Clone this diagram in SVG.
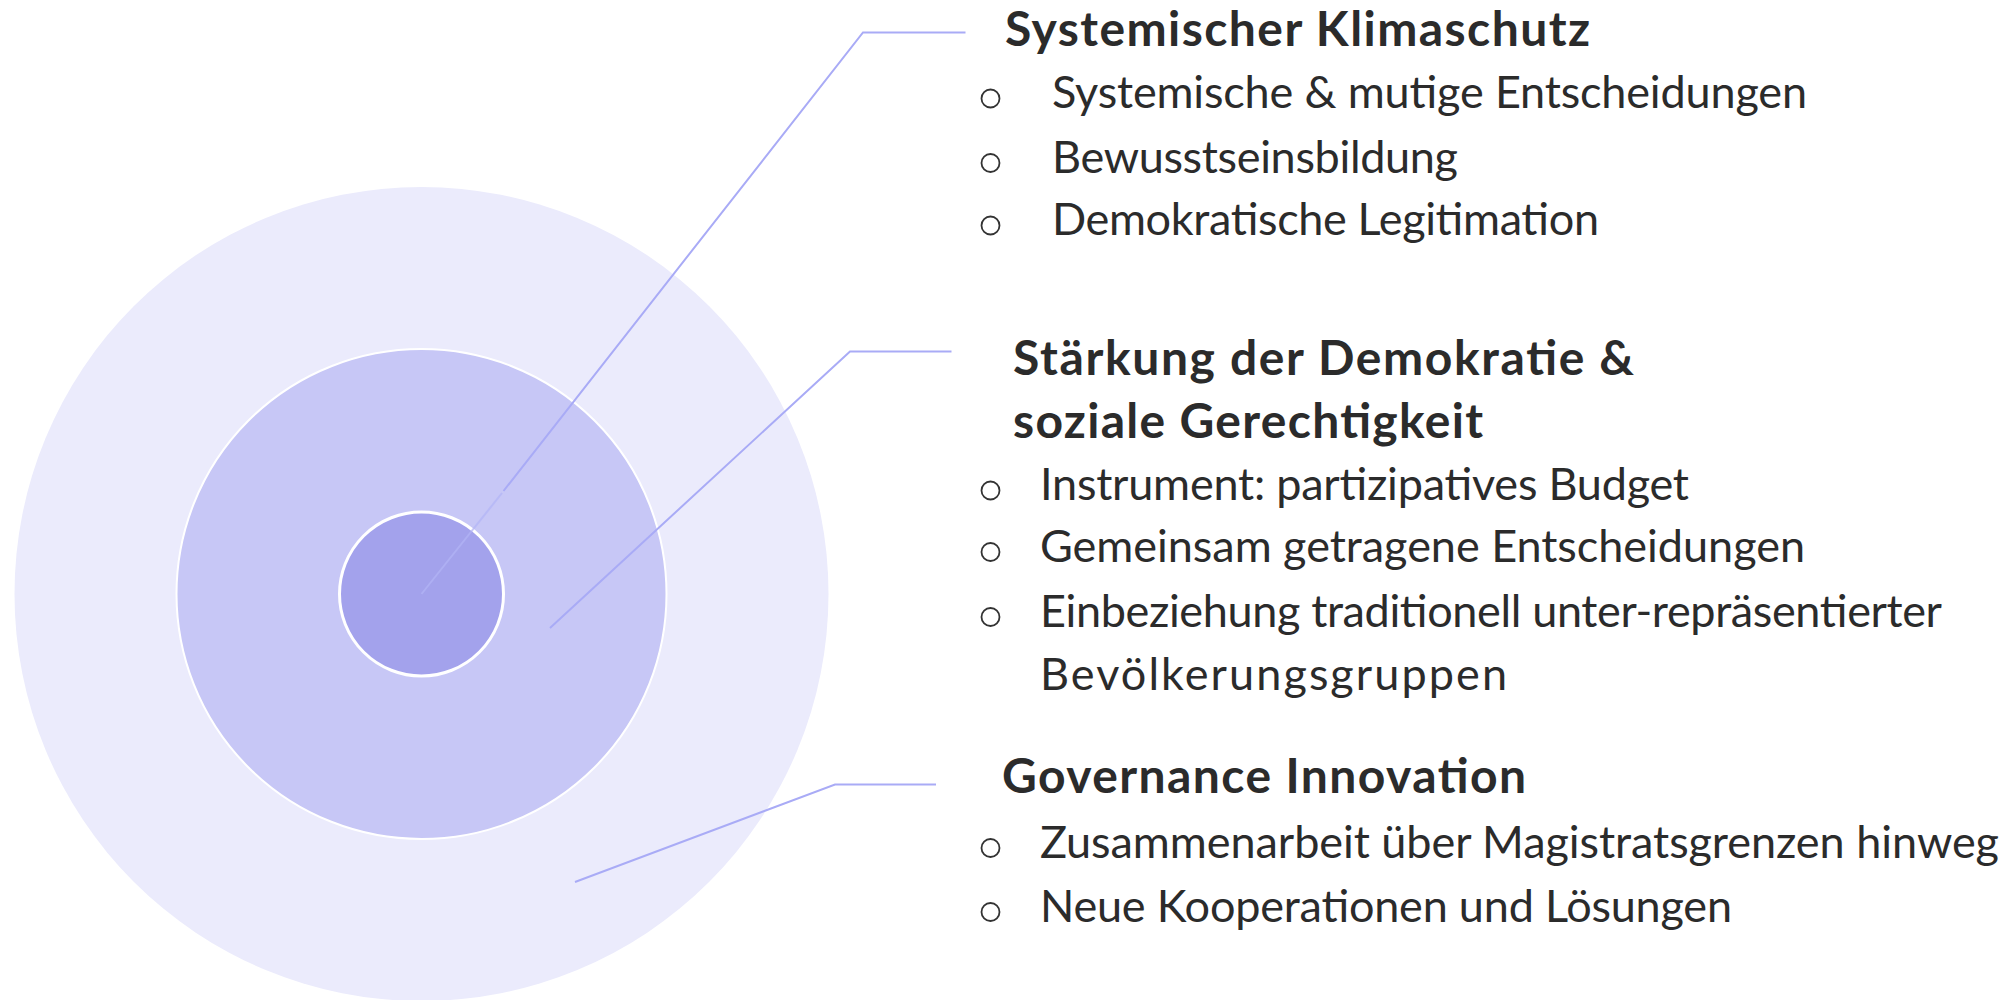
<svg xmlns="http://www.w3.org/2000/svg" width="2009" height="1000" viewBox="0 0 2009 1000">
<style>
.t{font-family:Lato,"Open Sans","Liberation Sans",sans-serif;fill:#2b2b2b;font-size:45px}
.h{font-weight:700;font-size:48px}
.b{fill:none;stroke:#333;stroke-width:1.8}
.ln{fill:none;stroke:#a9abf6;stroke-width:2}
</style>
<rect width="2009" height="1000" fill="#fff"/>
<g id="ring-outer"><circle cx="421.5" cy="594" r="407" fill="#ebebfc"/></g>
<g id="ring-middle"><circle cx="421.5" cy="594" r="245" fill="#c7c7f6" stroke="#fff" stroke-width="2"/></g>
<g id="connectors">
<polyline class="ln" points="503.5,491 863,32.5 965.5,32.5"/>
<polyline class="ln" points="550,628 850,351.5 951.5,351.5"/>
<polyline class="ln" points="575,882 835,784.5 936,784.5"/>
</g>
<g id="ring-inner"><circle cx="421.5" cy="594" r="82" fill="#a3a2ec" stroke="#fff" stroke-width="3"/>
<line x1="421.5" y1="594" x2="502" y2="493" stroke="#b3b5f6" stroke-width="2" opacity="0.7"/></g>
<g id="node-klimaschutz">
<text class="t h" x="1005" y="46" textLength="585" lengthAdjust="spacing">Systemischer Klimaschutz</text>
<circle class="b" cx="990.5" cy="98.5" r="9"/><text class="t" x="1052" y="108" textLength="755" lengthAdjust="spacing">Systemische &amp; mutige Entscheidungen</text>
<circle class="b" cx="990.5" cy="163" r="9"/><text class="t" x="1052" y="172.5" textLength="406" lengthAdjust="spacing">Bewusstseinsbildung</text>
<circle class="b" cx="990.5" cy="225.5" r="9"/><text class="t" x="1052" y="235" textLength="547" lengthAdjust="spacing">Demokratische Legitimation</text>
</g>
<g id="node-demokratie">
<text class="t h" x="1013" y="375" textLength="621" lengthAdjust="spacing">Stärkung der Demokratie &amp;</text>
<text class="t h" x="1013" y="438" textLength="470" lengthAdjust="spacing">soziale Gerechtigkeit</text>
<circle class="b" cx="990.5" cy="490.5" r="9"/><text class="t" x="1040" y="500" textLength="649" lengthAdjust="spacing">Instrument: partizipatives Budget</text>
<circle class="b" cx="990.5" cy="552" r="9"/><text class="t" x="1040" y="561.5" textLength="765" lengthAdjust="spacing">Gemeinsam getragene Entscheidungen</text>
<circle class="b" cx="990.5" cy="617" r="9"/><text class="t" x="1040" y="626.5" textLength="902" lengthAdjust="spacing">Einbeziehung traditionell unter-repräsentierter</text>
<text class="t" x="1040" y="690" textLength="467" lengthAdjust="spacing">Bevölkerungsgruppen</text>
</g>
<g id="node-governance">
<text class="t h" x="1002" y="793" textLength="524" lengthAdjust="spacing">Governance Innovation</text>
<circle class="b" cx="990.5" cy="848" r="9"/><text class="t" x="1040" y="857.5" textLength="959" lengthAdjust="spacing">Zusammenarbeit über Magistratsgrenzen hinweg</text>
<circle class="b" cx="990.5" cy="912" r="9"/><text class="t" x="1040" y="921.5" textLength="692" lengthAdjust="spacing">Neue Kooperationen und Lösungen</text>
</g>
</svg>
